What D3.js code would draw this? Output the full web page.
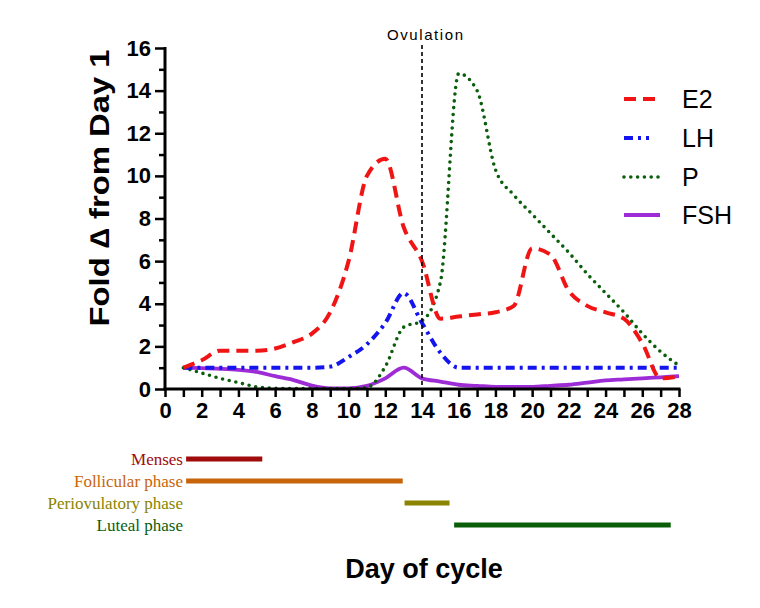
<!DOCTYPE html>
<html>
<head>
<meta charset="utf-8">
<script src="https://cdn.jsdelivr.net/npm/d3@7"></script>
<style>
  html, body { margin: 0; padding: 0; background: #fff; }
  svg { display: block; }
</style>
</head>
<body>
<svg id="chart" width="760" height="608"></svg>
<script>
// ---- data ----
const days = [1,2,3,4,5,6,7,8,9,10,11,12,13,14,15,16,17,18,19,20,21,22,23,24,25,26,27,28];
const E2  = [1.0,1.35,1.8,1.8,1.8,1.9,2.2,2.6,3.6,6.0,10.0,10.8,7.6,6.0,3.3,3.4,3.5,3.6,3.9,6.6,6.3,4.6,3.9,3.6,3.3,2.15,0.5,0.6];
const LH  = [1.0,1.0,1.0,1.0,1.0,1.0,1.0,1.0,1.05,1.5,2.1,3.1,4.5,3.1,1.7,1.0,1.0,1.0,1.0,1.0,1.0,1.0,1.0,1.0,1.0,1.0,1.0,1.0];
const P   = [1.0,0.75,0.5,0.3,0.1,0.03,0.02,0.02,0.02,0.02,0.07,1.05,2.9,3.2,5.0,14.8,14.0,10.3,9.1,8.2,7.3,6.4,5.4,4.5,3.6,2.6,1.75,1.1];
const FSH = [1.0,0.98,0.95,0.9,0.8,0.6,0.42,0.16,0.03,0.03,0.15,0.5,1.0,0.5,0.35,0.2,0.15,0.1,0.1,0.1,0.15,0.2,0.3,0.4,0.45,0.5,0.55,0.6];

const seriesNames  = ["E2","LH","P","FSH"];
const seriesColors = ["#f01414","#1414ee","#0b5e0b","#9d2bd6"];

const xTickLabels = [0,2,4,6,8,10,12,14,16,18,20,22,24,26,28];
const yTickLabels = [0,2,4,6,8,10,12,14,16];

const ovulationDay = 14;

const phaseNames  = ["Menses","Follicular phase","Periovulatory phase","Luteal phase"];
const phaseStart  = [1.15, 1.15, 13.05, 15.75];
const phaseEnd    = [5.3, 12.95, 15.5, 27.55];
const phaseColors = ["#a00b0b","#c8650a","#8a8400","#0a5e0a"];

// ---- layout ----
const svg = d3.select("#chart");
const x = d3.scaleLinear().domain([0, 28]).range([165, 679]);
const y = d3.scaleLinear().domain([0, 16]).range([389, 48]);

const sans = "'Liberation Sans', Arial, sans-serif";
const serif = "'Liberation Serif', 'Times New Roman', serif";

const styles = {
  E2:  { dash: "12 7",  width: 4,   cap: "butt" },
  LH:  { dash: "9 5 3 5", width: 4, cap: "butt" },
  P:   { dash: "0 6.8", width: 3.6, cap: "round" },
  FSH: { dash: null,    width: 3.8, cap: "butt" }
};
const values = { E2, LH, P, FSH };

// ---- lines ----
const line = d3.line()
  .x((d, i) => x(days[i]))
  .y(d => y(d))
  .curve(d3.curveMonotoneX);

["FSH","P","LH","E2"].forEach(name => {
  const i = seriesNames.indexOf(name);
  const st = styles[name];
  svg.append("path")
    .attr("d", line(values[name]))
    .attr("fill", "none")
    .attr("stroke", seriesColors[i])
    .attr("stroke-width", st.width)
    .attr("stroke-linecap", st.cap)
    .attr("stroke-linejoin", "round")
    .attr("stroke-dasharray", st.dash);
});

// ovulation line
svg.append("line")
  .attr("x1", x(ovulationDay)).attr("x2", x(ovulationDay))
  .attr("y1", 45).attr("y2", y(0))
  .attr("stroke", "#000").attr("stroke-width", 1.6)
  .attr("stroke-dasharray", "4 3");
svg.append("text")
  .attr("x", x(ovulationDay) + 3).attr("y", 40)
  .attr("text-anchor", "middle")
  .attr("font-family", sans).attr("font-size", 15)
  .attr("textLength", 76).attr("lengthAdjust", "spacing")
  .text("Ovulation");

// ---- axes ----
const xAxis = d3.axisBottom(x)
  .tickValues(d3.range(0, 29))
  .tickSize(8)
  .tickFormat(d => xTickLabels.includes(d) ? d : "");
const gx = svg.append("g").attr("transform", `translate(0,${y(0)})`).call(xAxis);
gx.select(".domain").attr("stroke-width", 3).attr("d", `M${x(0)-1.5},0H${x(28)+1.5}`);
gx.selectAll(".tick line").attr("stroke-width", 2.5);
gx.selectAll(".tick text")
  .attr("font-family", sans).attr("font-size", 22).attr("font-weight", "bold")
  .attr("fill", "#000").attr("dy", "0.71em").attr("y", 13);

const yAxis = d3.axisLeft(y)
  .tickValues(d3.range(0, 17))
  .tickSize(10)
  .tickFormat(d => yTickLabels.includes(d) ? d : "");
const gy = svg.append("g").attr("transform", `translate(${x(0)},0)`).call(yAxis);
gy.select(".domain").attr("stroke-width", 3).attr("d", `M0,${y(16)-1}V${y(0)+1.5}`);
gy.selectAll(".tick line").attr("stroke-width", 2.5)
  .attr("x2", d => yTickLabels.includes(d) ? -10 : -6);
gy.selectAll(".tick text")
  .attr("font-family", sans).attr("font-size", 22).attr("font-weight", "bold")
  .attr("fill", "#000").attr("x", -14);

// axis titles
svg.append("text")
  .attr("transform", "translate(109,188) rotate(-90)")
  .attr("text-anchor", "middle")
  .attr("font-family", sans).attr("font-size", 27).attr("font-weight", "bold")
  .attr("textLength", 277).attr("lengthAdjust", "spacingAndGlyphs")
  .text("Fold \u2206 from Day 1");

svg.append("text")
  .attr("x", 424).attr("y", 578)
  .attr("text-anchor", "middle")
  .attr("font-family", sans).attr("font-size", 27).attr("font-weight", "bold")
  .text("Day of cycle");

// ---- legend ----
const legY = [99, 138, 177, 215];
seriesNames.forEach((name, i) => {
  const st = styles[name];
  svg.append("line")
    .attr("x1", 624).attr("x2", 660)
    .attr("y1", legY[i]).attr("y2", legY[i])
    .attr("stroke", seriesColors[i])
    .attr("stroke-width", st.width)
    .attr("stroke-linecap", st.cap)
    .attr("stroke-dasharray", name === "LH" ? "9 5 3 5 3 20" : st.dash);
  svg.append("text")
    .attr("x", 682).attr("y", legY[i] + 9)
    .attr("font-family", sans).attr("font-size", 25)
    .attr("fill", "#000")
    .text(name);
});

// ---- phases ----
const phaseY = [459, 481, 503, 525];
phaseNames.forEach((name, i) => {
  svg.append("line")
    .attr("x1", x(phaseStart[i])).attr("x2", x(phaseEnd[i]))
    .attr("y1", phaseY[i]).attr("y2", phaseY[i])
    .attr("stroke", phaseColors[i]).attr("stroke-width", 5);
  svg.append("text")
    .attr("x", 183).attr("y", phaseY[i] + 6)
    .attr("text-anchor", "end")
    .attr("font-family", serif).attr("font-size", 17)
    .attr("fill", phaseColors[i])
    .text(name);
});
</script>
</body>
</html>
